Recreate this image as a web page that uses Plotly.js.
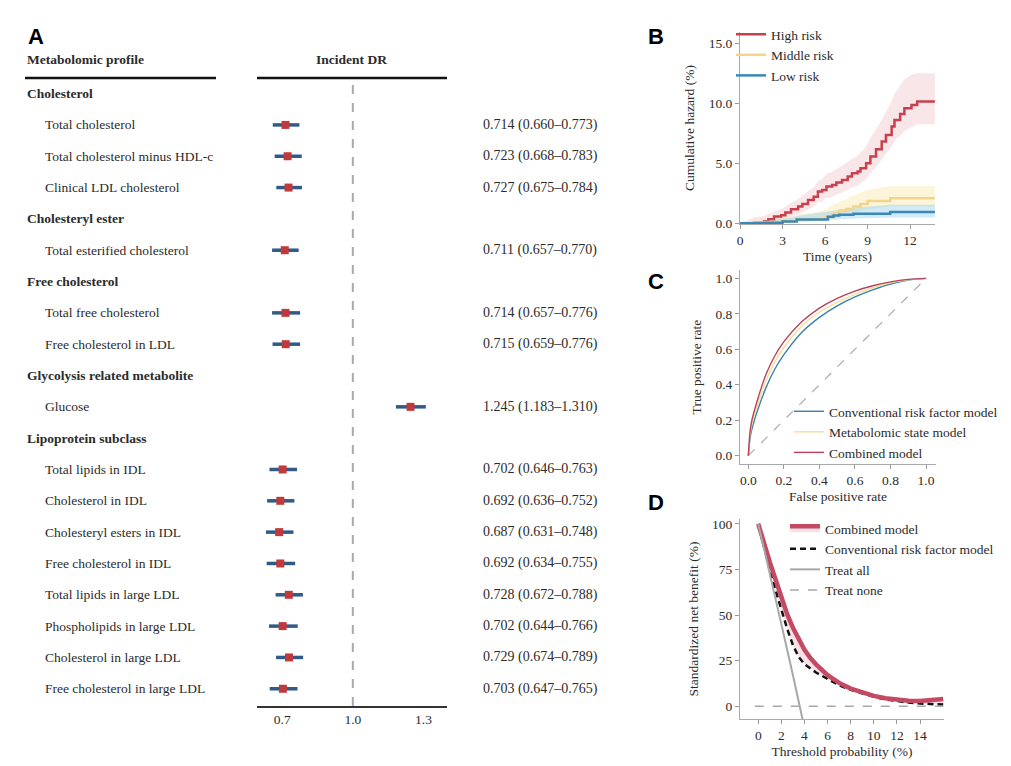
<!DOCTYPE html>
<html>
<head>
<meta charset="utf-8">
<script src="https://cdn.plot.ly/plotly-3.0.1.min.js"></script>
<style>html,body{margin:0;padding:0;background:#fff;}#chart{width:1011px;height:766px;}</style>
</head>
<body>
<div id="chart"></div>
<script>
// ---------- Panel A data ----------
const groups = ['Cholesterol', 'Cholesteryl ester', 'Free cholesterol', 'Glycolysis related metabolite', 'Lipoprotein subclass'];
const metabolites = ['Total cholesterol', 'Total cholesterol minus HDL-c', 'Clinical LDL cholesterol',
  'Total esterified cholesterol', 'Total free cholesterol', 'Free cholesterol in LDL', 'Glucose',
  'Total lipids in IDL', 'Cholesterol in IDL', 'Cholesteryl esters in IDL', 'Free cholesterol in IDL',
  'Total lipids in large LDL', 'Phospholipids in large LDL', 'Cholesterol in large LDL', 'Free cholesterol in large LDL'];
const metaboliteGroup = [0, 0, 0, 1, 2, 2, 3, 4, 4, 4, 4, 4, 4, 4, 4];
const hr = [0.714, 0.723, 0.727, 0.711, 0.714, 0.715, 1.245, 0.702, 0.692, 0.687, 0.692, 0.728, 0.702, 0.729, 0.703];
const ciLow = [0.660, 0.668, 0.675, 0.657, 0.657, 0.659, 1.183, 0.646, 0.636, 0.631, 0.634, 0.672, 0.644, 0.674, 0.647];
const ciHigh = [0.773, 0.783, 0.784, 0.770, 0.776, 0.776, 1.310, 0.763, 0.752, 0.748, 0.755, 0.788, 0.766, 0.789, 0.765];
const forestTicks = [0.7, 1.0, 1.3];

// ---------- Panel B data ----------
const hiT = [0, 1.0, 1.7, 2.0, 2.4, 2.9, 3.2, 3.6, 4.1, 4.4, 4.8, 5.2, 5.5, 5.8, 6.1, 6.5, 6.8, 7.2, 7.6, 7.9, 8.3, 8.5, 8.9, 9.2, 9.6, 10.0, 10.3, 10.7, 10.9, 11.3, 11.6, 12.1, 12.5, 13.75];
const hiY = [0, 0.05, 0.14, 0.33, 0.56, 0.67, 0.89, 1.17, 1.39, 1.61, 1.94, 2.22, 2.64, 2.78, 3.06, 3.19, 3.39, 3.61, 3.89, 4.17, 4.31, 4.58, 5.0, 5.56, 6.17, 6.81, 7.36, 8.06, 8.61, 9.11, 9.58, 9.86, 10.14, 10.14];
const hiUp = [0, 0.5, 0.6, 0.75, 1.0, 1.15, 1.4, 1.7, 2.0, 2.3, 2.7, 3.0, 3.5, 3.7, 4.1, 4.3, 4.5, 4.8, 5.1, 5.4, 5.6, 5.9, 6.4, 7.1, 7.8, 8.6, 9.3, 10.2, 10.8, 11.5, 12.0, 12.4, 12.5, 12.5];
const hiLo = [0, 0, 0, 0.05, 0.2, 0.25, 0.4, 0.6, 0.75, 0.9, 1.15, 1.4, 1.75, 1.85, 2.1, 2.2, 2.4, 2.55, 2.8, 3.0, 3.1, 3.35, 3.7, 4.2, 4.7, 5.3, 5.8, 6.4, 6.9, 7.3, 7.7, 8.0, 8.25, 8.25];
const midT = [0, 1.0, 2.0, 3.0, 4.0, 5.0, 6.0, 6.5, 7.0, 7.5, 8.0, 8.5, 9.0, 10.6, 13.75];
const midY = [0, 0.05, 0.1, 0.2, 0.3, 0.35, 0.5, 0.8, 1.05, 1.2, 1.4, 1.6, 1.85, 2.08, 2.08];
const midUp = [0, 0.3, 0.45, 0.6, 0.75, 0.85, 1.1, 1.5, 1.8, 2.0, 2.3, 2.55, 2.8, 3.1, 3.1];
const midLo = [0, 0, 0, 0.02, 0.08, 0.1, 0.2, 0.4, 0.55, 0.7, 0.85, 1.0, 1.15, 1.4, 1.4];
const lowT = [0, 2.0, 3.0, 4.0, 6.2, 6.6, 7.0, 8.0, 10.6, 13.75];
const lowY = [0, 0.05, 0.15, 0.32, 0.55, 0.65, 0.72, 0.8, 0.93, 0.93];
const lowUp = [0, 0.2, 0.35, 0.6, 0.95, 1.05, 1.15, 1.3, 1.55, 1.55];
const lowLo = [0, 0, 0.02, 0.1, 0.25, 0.3, 0.35, 0.4, 0.48, 0.48];

// ---------- Panel C data ----------
const rocFpr = [0, 0.01, 0.02, 0.05, 0.1, 0.15, 0.2, 0.3, 0.4, 0.5, 0.6, 0.7, 0.8, 0.9, 1.0];
const rocConv = [0, 0.10, 0.15, 0.25, 0.385, 0.49, 0.57, 0.695, 0.78, 0.845, 0.895, 0.935, 0.968, 0.99, 1.0];
const rocMeta = [0, 0.12, 0.18, 0.28, 0.425, 0.53, 0.61, 0.73, 0.81, 0.865, 0.91, 0.947, 0.975, 0.992, 1.0];
const rocComb = [0, 0.14, 0.20, 0.31, 0.46, 0.565, 0.643, 0.755, 0.832, 0.887, 0.928, 0.958, 0.98, 0.994, 1.0];

// ---------- Panel D data ----------
const dcaX = [0, 0.5, 1, 1.5, 2, 2.5, 3, 3.5, 4, 4.5, 5, 6, 7, 8, 9, 10, 11, 12, 13, 14, 15, 16];
const dcaComb = [100, 89, 79, 69.5, 59.5, 50.5, 43, 36.5, 31, 26.5, 23, 17, 12.8, 9.7, 7.4, 5.7, 4.4, 3.5, 3.0, 2.9, 3.4, 4.0];
const dcaConv = [100, 87, 75, 63.5, 52.5, 42.5, 33.5, 27, 23, 20.5, 18.5, 15, 11.5, 9, 7, 5.2, 3.8, 2.7, 2.0, 1.5, 1.1, 0.9];
const treatAllX = [0, 1, 2, 3, 4];
const treatAllY = [100, 73, 45, 17, -12];
const treatNoneX = [-0.3, 16];
const treatNoneY = [0, 0];

// ---------- helpers ----------
const W = 1011, H = 766;
const px = x => x / W;
const py = y => 1 - y / H;
const SERIF = 'Liberation Serif, Times New Roman, serif';
const TXT = '#2b2b2b';

// rows for forest
const rowLabels = [], rowIsGroup = [], itemRow = [];
groups.forEach((g, gi) => {
  rowLabels.push(g); rowIsGroup.push(true);
  metabolites.forEach((m, mi) => {
    if (metaboliteGroup[mi] === gi) { itemRow[mi] = rowLabels.length; rowLabels.push(m); rowIsGroup.push(false); }
  });
});

const traces = [];
traces.push({
  type: 'scatter', mode: 'markers', x: hr, y: itemRow, xaxis: 'x', yaxis: 'y', showlegend: false,
  marker: {symbol: 'square', size: 8, color: '#c0393b'},
  error_x: {type: 'data', symmetric: false, array: ciHigh.map((h, i) => h - hr[i]), arrayminus: hr.map((v, i) => v - ciLow[i]),
    color: '#2f5b86', thickness: 3.5, width: 0}
});

// Panel B bands + lines
function band(t, up, lo, fill) {
  traces.push({type: 'scatter', mode: 'lines', x: t, y: up, xaxis: 'x2', yaxis: 'y2', line: {width: 0, shape: 'linear'}, showlegend: false, hoverinfo: 'skip'});
  traces.push({type: 'scatter', mode: 'lines', x: t, y: lo, xaxis: 'x2', yaxis: 'y2', line: {width: 0, shape: 'linear'}, fill: 'tonexty', fillcolor: fill, showlegend: false, hoverinfo: 'skip'});
}
band(hiT, hiUp, hiLo, 'rgba(225,130,145,0.20)');
band(midT, midUp, midLo, 'rgba(250,225,150,0.35)');
band(lowT, lowUp, lowLo, 'rgba(120,195,235,0.35)');
traces.push({type: 'scatter', mode: 'lines', name: 'High risk', x: hiT, y: hiY, xaxis: 'x2', yaxis: 'y2', line: {color: '#c8404f', width: 2.5, shape: 'hv'}, legend: 'legend'});
traces.push({type: 'scatter', mode: 'lines', name: 'Middle risk', x: midT, y: midY, xaxis: 'x2', yaxis: 'y2', line: {color: '#f2d48a', width: 2.5, shape: 'hv'}, legend: 'legend'});
traces.push({type: 'scatter', mode: 'lines', name: 'Low risk', x: lowT, y: lowY, xaxis: 'x2', yaxis: 'y2', line: {color: '#3a87b8', width: 2.5, shape: 'hv'}, legend: 'legend'});

// Panel C
traces.push({type: 'scatter', mode: 'lines', x: [0, 1], y: [0, 1], xaxis: 'x3', yaxis: 'y3', line: {color: '#aaaaaa', width: 1.2, dash: 'dash'}, showlegend: false});
traces.push({type: 'scatter', mode: 'lines', name: 'Conventional risk factor model', x: rocFpr, y: rocConv, xaxis: 'x3', yaxis: 'y3', line: {color: '#3b80b1', width: 1.4, shape: 'spline'}, legend: 'legend2'});
traces.push({type: 'scatter', mode: 'lines', name: 'Metabolomic state model', x: rocFpr, y: rocMeta, xaxis: 'x3', yaxis: 'y3', line: {color: '#f6df9a', width: 1.4, shape: 'spline'}, legend: 'legend2'});
traces.push({type: 'scatter', mode: 'lines', name: 'Combined model', x: rocFpr, y: rocComb, xaxis: 'x3', yaxis: 'y3', line: {color: '#b8425c', width: 1.4, shape: 'spline'}, legend: 'legend2'});

// Panel D
traces.push({type: 'scatter', mode: 'lines', name: 'Conventional risk factor model', x: dcaX, y: dcaConv, xaxis: 'x4', yaxis: 'y4', line: {color: '#111111', width: 2.5, dash: '6px,4px'}, legend: 'legend3', legendrank: 2});
traces.push({type: 'scatter', mode: 'lines', name: 'Combined model', x: dcaX, y: dcaComb, xaxis: 'x4', yaxis: 'y4', line: {color: '#c34a62', width: 4.5}, fill: 'tonexty', fillcolor: 'rgba(240,165,185,0.35)', legend: 'legend3', legendrank: 1});
traces.push({type: 'scatter', mode: 'lines', name: 'Treat all', x: treatAllX, y: treatAllY, xaxis: 'x4', yaxis: 'y4', line: {color: '#a8a8a8', width: 2}, legend: 'legend3', legendrank: 3});
traces.push({type: 'scatter', mode: 'lines', name: 'Treat none', x: treatNoneX, y: treatNoneY, xaxis: 'x4', yaxis: 'y4', line: {color: '#a8a8a8', width: 1.5, dash: 'dash'}, legend: 'legend3', legendrank: 4});

// annotations
const ann = [];
rowLabels.forEach((lab, r) => {
  ann.push({xref: 'paper', yref: 'y', x: px(rowIsGroup[r] ? 25 : 43), y: r, text: rowIsGroup[r] ? '<b>' + lab + '</b>' : lab,
    showarrow: false, xanchor: 'left', yanchor: 'middle', font: {family: SERIF, size: 13.5, color: TXT}});
});
metabolites.forEach((m, i) => {
  ann.push({xref: 'paper', yref: 'y', x: px(481), y: itemRow[i],
    text: hr[i].toFixed(3) + ' (' + ciLow[i].toFixed(3) + '\u2013' + ciHigh[i].toFixed(3) + ')',
    showarrow: false, xanchor: 'left', yanchor: 'middle', font: {family: SERIF, size: 14, color: TXT}});
});
ann.push({xref: 'paper', yref: 'paper', x: px(25), y: py(60), text: '<b>Metabolomic profile</b>', showarrow: false, xanchor: 'left', yanchor: 'middle', font: {family: SERIF, size: 13.5, color: TXT}});
ann.push({xref: 'paper', yref: 'paper', x: px(351), y: py(60), text: '<b>Incident DR</b>', showarrow: false, xanchor: 'center', yanchor: 'middle', font: {family: SERIF, size: 13.5, color: TXT}});
[['A', 36, 36], ['B', 656, 36], ['C', 656, 281], ['D', 656, 502]].forEach(([t, x, y]) => {
  ann.push({xref: 'paper', yref: 'paper', x: px(x), y: py(y), text: '<b>' + t + '</b>', showarrow: false, xanchor: 'center', yanchor: 'middle', font: {family: 'Liberation Sans, Arial, sans-serif', size: 22, color: '#000'}});
});

const shapes = [
  {type: 'line', xref: 'paper', yref: 'paper', x0: px(25), x1: px(216), y0: py(78), y1: py(78), line: {color: '#111', width: 2.5}},
  {type: 'line', xref: 'paper', yref: 'paper', x0: px(257), x1: px(447), y0: py(78), y1: py(78), line: {color: '#111', width: 2.5}},
  {type: 'line', xref: 'x', yref: 'y domain', x0: 1.0, x1: 1.0, y0: 0, y1: 1, line: {color: '#aaaaaa', width: 2, dash: 'dash'}, layer: 'below'}
];

const tickFont = {family: SERIF, size: 13.5, color: TXT};
const titleFont = {family: SERIF, size: 13.5, color: TXT};
const legFont = {family: SERIF, size: 13.5, color: TXT};
const sideAxis = {showline: true, linecolor: '#aaaaaa', linewidth: 1, ticks: 'outside', ticklen: 4, tickcolor: '#999', showgrid: false, zeroline: false, tickfont: tickFont};

const layout = {
  width: W, height: H, margin: {l: 0, r: 0, t: 0, b: 0}, paper_bgcolor: '#fff', plot_bgcolor: 'rgba(0,0,0,0)',
  font: {family: SERIF, color: TXT},
  showlegend: true,
  xaxis: {domain: [px(257), px(447)], range: [0.593, 1.40], anchor: 'y', showline: true, linecolor: '#333', linewidth: 2,
    ticks: '', tickvals: forestTicks, ticktext: forestTicks.map(v => v.toFixed(1)), showgrid: false, zeroline: false, tickfont: tickFont},
  yaxis: {domain: [py(706), py(82)], range: [19.55, -0.37], anchor: 'x', visible: false},
  xaxis2: Object.assign({}, sideAxis, {domain: [px(740), px(935)], range: [0, 13.76], anchor: 'y2', tickvals: [0, 3, 6, 9, 12],
    title: {text: 'Time (years)', font: titleFont, standoff: 4}}),
  yaxis2: Object.assign({}, sideAxis, {domain: [py(224), py(32)], range: [-0.06, 15.94], anchor: 'x2', tickvals: [0, 5, 10, 15], ticktext: ['0.0', '5.0', '10.0', '15.0'],
    title: {text: 'Cumulative hazard (%)', font: titleFont, standoff: 10}}),
  xaxis3: Object.assign({}, sideAxis, {domain: [px(740), px(936)], range: [-0.047, 1.056], anchor: 'y3', tickvals: [0, 0.2, 0.4, 0.6, 0.8, 1.0], ticktext: ['0.0', '0.2', '0.4', '0.6', '0.8', '1.0'],
    title: {text: 'False positive rate', font: titleFont, standoff: 4}}),
  yaxis3: Object.assign({}, sideAxis, {domain: [py(464), py(270)], range: [-0.047, 1.047], anchor: 'x3', tickvals: [0, 0.2, 0.4, 0.6, 0.8, 1.0], ticktext: ['0.0', '0.2', '0.4', '0.6', '0.8', '1.0'],
    title: {text: 'True positive rate', font: titleFont, standoff: 10}}),
  xaxis4: Object.assign({}, sideAxis, {domain: [px(740), px(944)], range: [-1.58, 16.07], anchor: 'y4', tickvals: [0, 2, 4, 6, 8, 10, 12, 14],
    title: {text: 'Threshold probability (%)', font: titleFont, standoff: 4}}),
  yaxis4: Object.assign({}, sideAxis, {domain: [py(719), py(519)], range: [-7, 102.7], anchor: 'x4', tickvals: [0, 25, 50, 75, 100],
    title: {text: 'Standardized net benefit (%)', font: titleFont, standoff: 10}}),
  legend: {x: px(731), y: py(19), xanchor: 'left', yanchor: 'top', bgcolor: 'rgba(0,0,0,0)', font: legFont, traceorder: 'normal'},
  legend2: {x: px(789), y: py(396), xanchor: 'left', yanchor: 'top', bgcolor: 'rgba(0,0,0,0)', font: legFont, traceorder: 'normal'},
  legend3: {x: px(785), y: py(513), xanchor: 'left', yanchor: 'top', bgcolor: 'rgba(0,0,0,0)', font: legFont, traceorder: 'normal'},
  annotations: ann, shapes: shapes
};

Plotly.newPlot('chart', traces, layout, {displayModeBar: false, staticPlot: true});
</script>
</body>
</html>
